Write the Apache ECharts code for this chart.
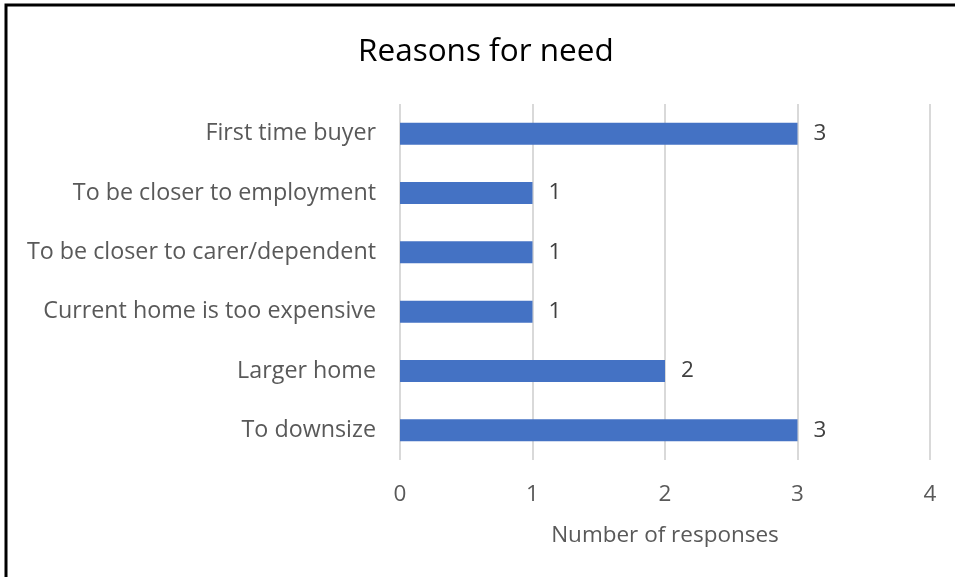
<!DOCTYPE html>
<html>
<head>
<meta charset="utf-8">
<script src="https://cdn.jsdelivr.net/npm/echarts@6/dist/echarts.min.js"></script>
<style>
  html, body { margin: 0; padding: 0; background: #fff; }
  #chart { width: 955px; height: 577px; }
</style>
</head>
<body>
<div id="chart"></div>
<script>
// Reasons listed from bottom to top of the chart
const categories = [
  'To downsize',
  'Larger home',
  'Current home is too expensive',
  'To be closer to carer/dependent',
  'To be closer to employment',
  'First time buyer'
];
const responses = [3, 2, 1, 1, 1, 3];
const xTicks = [0, 1, 2, 3, 4];

const FONT = '"Open Sans", "Liberation Sans", sans-serif';
const chart = echarts.init(document.getElementById('chart'));

chart.setOption({
  backgroundColor: '#ffffff',
  animation: false,
  title: {
    text: 'Reasons for need',
    left: 353,
    top: 31,
    textStyle: { fontFamily: FONT, fontSize: 31.5, fontWeight: 'normal', color: '#000000' }
  },
  graphic: [{
    type: 'polyline',
    shape: { points: [[6, 577], [6, 5], [955, 5]] },
    style: { stroke: '#000000', lineWidth: 3, fill: null }
  }],
  grid: { left: 400, right: 25, top: 104, bottom: 117, containLabel: false },
  xAxis: {
    type: 'value',
    min: xTicks[0],
    max: xTicks[xTicks.length - 1],
    interval: 1,
    name: 'Number of responses',
    nameLocation: 'middle',
    nameGap: 64,
    nameTextStyle: { fontFamily: FONT, fontSize: 22.5, color: '#595959' },
    axisLine: { show: false },
    axisTick: { show: false },
    axisLabel: { fontFamily: FONT, fontSize: 22.5, color: '#595959', margin: 23 },
    splitLine: { show: true, lineStyle: { color: '#d9d9d9', width: 2 } }
  },
  yAxis: {
    type: 'category',
    data: categories,
    axisLine: { show: false },
    axisTick: { show: false },
    axisLabel: { fontFamily: FONT, fontSize: 23.3, color: '#595959', margin: 24 }
  },
  series: [{
    type: 'bar',
    data: responses,
    barCategoryGap: '63%',
    itemStyle: { color: '#4472C4' },
    label: {
      show: true,
      position: 'right',
      distance: 16,
      fontFamily: FONT,
      fontSize: 22.5,
      color: '#404040'
    }
  }]
});
</script>
</body>
</html>
